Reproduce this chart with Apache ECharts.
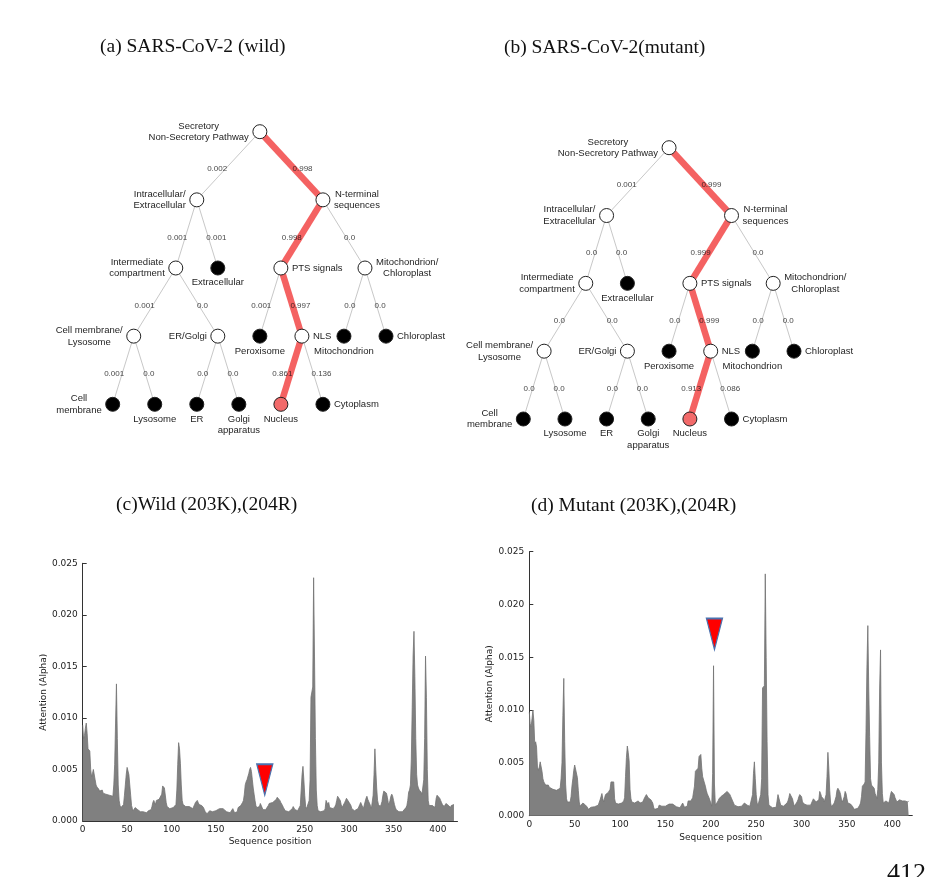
<!DOCTYPE html>
<html><head><meta charset="utf-8">
<script src="https://cdn.jsdelivr.net/npm/echarts@6/dist/echarts.min.js"></script>
<style>html,body{margin:0;padding:0;background:#fff}#c{width:952px;height:877px}</style>
</head><body><div id="c"></div>
<script>
// ---------- tree data ----------
const nodeLabels = [
  'Secretory\nNon-Secretory Pathway', 'Intracellular/\nExtracellular', 'N-terminal\nsequences',
  'Intermediate\ncompartment', 'Extracellular', 'PTS signals', 'Mitochondrion/\nChloroplast',
  'Cell membrane/\nLysosome', 'ER/Golgi', 'Peroxisome', 'NLS', 'Mitochondrion', 'Chloroplast',
  'Cell\nmembrane', 'Lysosome', 'ER', 'Golgi\napparatus', 'Nucleus', 'Cytoplasm'
];
const nodeParent = [-1, 0, 0, 1, 1, 2, 2, 3, 3, 5, 5, 6, 6, 7, 7, 8, 8, 10, 10];
const nodeLevel  = [0, 1, 1, 2, 2, 2, 2, 3, 3, 3, 3, 3, 3, 4, 4, 4, 4, 4, 4];
const nodeSlot   = [7, 4, 10, 3, 5, 8, 12, 1, 5, 7, 9, 11, 13, 0, 2, 4, 6, 8, 10];
const nodeIsLeaf = [0, 0, 0, 0, 1, 0, 0, 0, 0, 1, 0, 1, 1, 1, 1, 1, 1, 1, 1];
const predictedPath = [0, 2, 5, 10, 17];
// edge probability, indexed by child node
const wildEdgeProb   = ['', '0.002', '0.998', '0.001', '0.001', '0.998', '0.0', '0.001', '0.0', '0.001', '0.997', '0.0', '0.0', '0.001', '0.0', '0.0', '0.0', '0.861', '0.136'];
const mutantEdgeProb = ['', '0.001', '0.999', '0.0', '0.0', '0.999', '0.0', '0.0', '0.0', '0.0', '0.999', '0.0', '0.0', '0.0', '0.0', '0.0', '0.0', '0.913', '0.086'];

// ---------- attention data [sequence position, attention] ----------
const wildAttention = [
[0,0.0093],[1,0.0080],[2,0.0083],[3,0.0090],[4,0.0095],[5,0.0085],[6,0.0070],[7,0.0069],[8,0.0068],[9,0.0050],
[10,0.0043],[11,0.0046],[12,0.0050],[13,0.0051],[14,0.0040],[15,0.0035],[16,0.0033],[17,0.0032],[18,0.0031],[19,0.0029],
[20,0.0028],[21,0.0029],[22,0.0030],[23,0.0027],[24,0.0026],[26,0.0026],[28,0.0025],[30,0.0025],[32,0.0024],[34,0.0024],
[35,0.0035],[36,0.0055],[37,0.0095],[38,0.0133],[39,0.0080],[40,0.0035],[41,0.0020],[42,0.0015],[43,0.0013],[44,0.0013],
[45,0.0014],[46,0.0016],[47,0.0025],[48,0.0035],[49,0.0045],[50,0.0052],[51,0.0053],[52,0.0045],[53,0.0035],[54,0.0025],
[55,0.0015],[56,0.0012],[57,0.0010],[58,0.0010],[59,0.0013],[60,0.0014],[61,0.0013],[62,0.0011],[63,0.0010],[64,0.0011],
[65,0.0009],[66,0.0008],[68,0.0009],[70,0.0008],[72,0.0008],[74,0.0010],[76,0.0010],[77,0.0011],[78,0.0014],[79,0.0018],
[80,0.0020],[81,0.0018],[82,0.0016],[83,0.0020],[84,0.0021],[85,0.0019],[86,0.0021],[87,0.0020],[88,0.0022],[89,0.0026],
[90,0.0034],[91,0.0033],[92,0.0032],[93,0.0033],[94,0.0018],[95,0.0014],[96,0.0013],[98,0.0012],[100,0.0013],[102,0.0013],
[104,0.0014],[105,0.0016],[106,0.0030],[107,0.0055],[108,0.0076],[109,0.0070],[110,0.0056],[111,0.0035],[112,0.0020],[113,0.0016],
[114,0.0015],[116,0.0014],[118,0.0013],[120,0.0014],[122,0.0013],[124,0.0012],[125,0.0013],[126,0.0016],[127,0.0018],[128,0.0019],
[129,0.0020],[130,0.0018],[131,0.0016],[132,0.0015],[133,0.0017],[134,0.0015],[135,0.0016],[136,0.0013],[137,0.0011],[138,0.0009],
[139,0.0008],[140,0.0007],[142,0.0008],[143,0.0010],[144,0.0009],[146,0.0009],[148,0.0009],[150,0.0010],[152,0.0011],[154,0.0012],
[156,0.0012],[158,0.0012],[160,0.0011],[162,0.0009],[164,0.0008],[166,0.0008],[168,0.0009],[169,0.0012],[170,0.0011],[171,0.0008],
[172,0.0008],[174,0.0009],[175,0.0013],[176,0.0014],[178,0.0015],[180,0.0018],[181,0.0020],[182,0.0026],[183,0.0035],[184,0.0038],
[185,0.0040],[186,0.0039],[187,0.0046],[188,0.0050],[189,0.0052],[190,0.0048],[191,0.0040],[192,0.0032],[193,0.0026],[194,0.0020],
[195,0.0015],[196,0.0013],[197,0.0012],[198,0.0012],[199,0.0014],[200,0.0017],[201,0.0016],[202,0.0013],[203,0.0011],[204,0.0012],
[206,0.0011],[208,0.0012],[209,0.0015],[210,0.0017],[212,0.0017],[214,0.0018],[216,0.0019],[218,0.0021],[219,0.0023],[220,0.0024],
[221,0.0023],[222,0.0020],[223,0.0018],[224,0.0017],[225,0.0015],[226,0.0013],[228,0.0010],[230,0.0010],[232,0.0009],[234,0.0009],
[236,0.0012],[237,0.0014],[238,0.0013],[239,0.0011],[240,0.0010],[242,0.0010],[244,0.0010],[245,0.0015],[246,0.0030],[247,0.0045],
[248,0.0053],[249,0.0040],[250,0.0025],[251,0.0014],[252,0.0012],[253,0.0012],[254,0.0013],[255,0.0020],[256,0.0040],[257,0.0120],
[258,0.0120],[259,0.0130],[260,0.0236],[261,0.0160],[262,0.0080],[263,0.0030],[264,0.0015],[265,0.0010],[266,0.0010],[268,0.0009],
[270,0.0009],[272,0.0010],[273,0.0012],[274,0.0020],[275,0.0021],[276,0.0016],[277,0.0018],[278,0.0013],[279,0.0012],[280,0.0013],
[282,0.0012],[284,0.0014],[285,0.0016],[286,0.0020],[287,0.0024],[288,0.0025],[289,0.0023],[290,0.0020],[291,0.0016],[292,0.0013],
[293,0.0012],[294,0.0014],[295,0.0018],[296,0.0020],[297,0.0022],[298,0.0023],[299,0.0021],[300,0.0018],[301,0.0017],[302,0.0015],
[303,0.0012],[304,0.0011],[306,0.0010],[308,0.0011],[310,0.0012],[311,0.0014],[312,0.0016],[313,0.0018],[314,0.0019],[315,0.0017],
[316,0.0012],[317,0.0011],[318,0.0013],[319,0.0022],[320,0.0024],[321,0.0021],[322,0.0019],[323,0.0020],[324,0.0015],[325,0.0012],
[326,0.0013],[327,0.0025],[328,0.0045],[329,0.0070],[330,0.0050],[331,0.0032],[332,0.0020],[333,0.0016],[334,0.0015],[335,0.0014],
[336,0.0016],[337,0.0019],[338,0.0025],[339,0.0029],[340,0.0029],[341,0.0028],[342,0.0027],[343,0.0023],[344,0.0018],[345,0.0016],
[346,0.0020],[347,0.0024],[348,0.0026],[349,0.0024],[350,0.0020],[351,0.0016],[352,0.0013],[353,0.0011],[354,0.0010],[356,0.0009],
[358,0.0008],[360,0.0009],[362,0.0010],[364,0.0013],[365,0.0015],[366,0.0020],[367,0.0028],[368,0.0030],[369,0.0035],[370,0.0060],
[371,0.0110],[372,0.0160],[373,0.0184],[374,0.0140],[375,0.0080],[376,0.0045],[377,0.0035],[378,0.0032],[379,0.0030],[380,0.0030],
[381,0.0028],[382,0.0026],[383,0.0025],[384,0.0040],[385,0.0080],[386,0.0160],[387,0.0120],[388,0.0050],[389,0.0020],[390,0.0015],
[391,0.0014],[392,0.0014],[394,0.0015],[396,0.0013],[397,0.0015],[398,0.0022],[399,0.0025],[400,0.0026],[401,0.0024],[402,0.0022],
[403,0.0020],[404,0.0018],[405,0.0016],[406,0.0015],[407,0.0014],[408,0.0015],[409,0.0017],[410,0.0017],[411,0.0016],[412,0.0015],
[413,0.0014],[414,0.0013],[415,0.0015],[416,0.0016],[417,0.0015],[418,0.0016]
];
const mutantAttention = [
[0,0.0098],[1,0.0087],[2,0.0084],[3,0.0092],[4,0.0100],[5,0.0090],[6,0.0068],[7,0.0070],[8,0.0065],[9,0.0046],
[10,0.0043],[11,0.0046],[12,0.0051],[13,0.0052],[14,0.0042],[15,0.0035],[16,0.0032],[17,0.0031],[18,0.0029],[19,0.0028],
[20,0.0029],[21,0.0029],[22,0.0027],[23,0.0026],[24,0.0026],[26,0.0025],[28,0.0025],[30,0.0024],[32,0.0023],[34,0.0026],
[35,0.0035],[36,0.0050],[37,0.0095],[38,0.0130],[39,0.0070],[40,0.0030],[41,0.0016],[42,0.0013],[43,0.0012],[44,0.0012],
[45,0.0013],[46,0.0018],[47,0.0028],[48,0.0035],[49,0.0043],[50,0.0048],[51,0.0049],[52,0.0047],[53,0.0036],[54,0.0024],
[55,0.0013],[56,0.0009],[57,0.0008],[58,0.0010],[59,0.0012],[60,0.0013],[61,0.0012],[62,0.0010],[63,0.0009],[64,0.0008],
[65,0.0006],[66,0.0007],[68,0.0008],[70,0.0007],[72,0.00085],[74,0.0009],[76,0.0010],[77,0.0011],[78,0.0015],[79,0.0018],
[80,0.0021],[81,0.0016],[82,0.0013],[83,0.0017],[84,0.0020],[85,0.0020],[86,0.0019],[87,0.0022],[88,0.0023],[89,0.0025],
[90,0.0032],[91,0.0033],[92,0.0032],[93,0.0032],[94,0.0016],[95,0.0012],[96,0.0011],[98,0.0011],[100,0.0012],[102,0.0012],
[104,0.0014],[105,0.0017],[106,0.0037],[107,0.0055],[108,0.0066],[109,0.0060],[110,0.0052],[111,0.0025],[112,0.0016],[113,0.0013],
[114,0.0013],[116,0.0012],[118,0.0013],[120,0.0014],[122,0.0012],[124,0.0012],[125,0.0013],[126,0.0015],[127,0.0017],[128,0.0018],
[129,0.0020],[130,0.0019],[131,0.0017],[132,0.0016],[133,0.0017],[134,0.0015],[135,0.0015],[136,0.0012],[137,0.0008],[138,0.0006],
[140,0.00055],[142,0.0007],[143,0.0010],[144,0.0009],[146,0.0009],[148,0.00085],[150,0.0009],[152,0.0010],[154,0.0011],[156,0.0011],
[158,0.0011],[160,0.0010],[162,0.00085],[164,0.0008],[166,0.00075],[168,0.0009],[169,0.0012],[170,0.0010],[171,0.0008],[172,0.00075],
[174,0.0009],[175,0.0014],[176,0.0014],[178,0.0014],[180,0.0017],[181,0.0018],[182,0.0028],[183,0.0042],[184,0.0043],[185,0.0043],
[186,0.0045],[187,0.0056],[188,0.0057],[189,0.0058],[190,0.0045],[191,0.0037],[192,0.0038],[193,0.0037],[194,0.0028],[195,0.0024],
[196,0.0021],[197,0.0019],[198,0.0017],[199,0.0016],[200,0.0012],[201,0.0009],[202,0.0040],[203,0.0142],[204,0.0030],[205,0.0010],
[206,0.0010],[207,0.0011],[208,0.0014],[209,0.0016],[210,0.0017],[211,0.0018],[212,0.0019],[214,0.0020],[216,0.0021],[218,0.0023],
[219,0.0024],[220,0.0022],[221,0.0020],[222,0.0018],[223,0.0016],[224,0.0014],[225,0.0012],[226,0.0010],[228,0.0009],[230,0.00085],
[232,0.0008],[234,0.0009],[236,0.0010],[237,0.0012],[238,0.0012],[239,0.0011],[240,0.0010],[241,0.0009],[243,0.0009],[245,0.0009],
[246,0.0020],[247,0.0040],[248,0.0051],[249,0.0035],[250,0.0020],[251,0.0012],[252,0.0010],[253,0.0010],[254,0.0011],[255,0.0020],
[256,0.0035],[257,0.0121],[258,0.0121],[259,0.0123],[260,0.0229],[261,0.0150],[262,0.0070],[263,0.0020],[264,0.0010],[265,0.00085],
[266,0.00085],[268,0.00075],[270,0.0007],[272,0.0008],[273,0.0009],[274,0.0020],[275,0.0021],[276,0.0020],[277,0.0010],[278,0.00085],
[280,0.0009],[282,0.0010],[284,0.0012],[285,0.0014],[286,0.0017],[287,0.0021],[288,0.0022],[289,0.0020],[290,0.0016],[291,0.0012],
[292,0.0009],[293,0.00085],[294,0.0010],[295,0.0013],[296,0.0015],[297,0.0018],[298,0.0020],[299,0.0021],[300,0.0018],[301,0.0013],
[302,0.0012],[303,0.0011],[304,0.0011],[306,0.0010],[308,0.0009],[310,0.0010],[311,0.0012],[312,0.0014],[313,0.0016],[314,0.0017],
[315,0.0016],[316,0.0013],[317,0.0012],[318,0.0012],[319,0.0015],[320,0.0023],[321,0.0021],[322,0.0018],[323,0.0019],[324,0.0016],
[325,0.0013],[326,0.0014],[327,0.0020],[328,0.0037],[329,0.0060],[330,0.0045],[331,0.0024],[332,0.0012],[333,0.00085],[334,0.0009],
[336,0.0012],[337,0.0013],[338,0.0018],[339,0.0024],[340,0.0026],[341,0.0025],[342,0.0023],[343,0.0020],[344,0.0015],[345,0.0013],
[346,0.0012],[347,0.0018],[348,0.0023],[349,0.0021],[350,0.0016],[351,0.0012],[352,0.0011],[354,0.0011],[356,0.0009],[357,0.00085],
[358,0.0006],[359,0.00055],[360,0.0006],[362,0.0007],[364,0.0010],[365,0.0012],[366,0.0018],[367,0.0028],[368,0.0029],[369,0.0030],
[370,0.0032],[371,0.0080],[372,0.0140],[373,0.0180],[374,0.0120],[375,0.0075],[376,0.0035],[377,0.0029],[378,0.0028],[379,0.00275],
[380,0.0026],[381,0.0021],[382,0.0019],[383,0.0016],[384,0.0025],[385,0.0050],[386,0.0120],[387,0.0157],[388,0.0050],[389,0.0021],
[390,0.0012],[391,0.0012],[392,0.0013],[393,0.0014],[394,0.0013],[396,0.0012],[397,0.0015],[398,0.0020],[399,0.0023],[400,0.0023],
[401,0.0022],[402,0.0020],[403,0.0017],[404,0.0015],[405,0.0013],[406,0.0014],[408,0.0015],[409,0.0015],[410,0.0014],[411,0.0014],
[412,0.0015],[413,0.0013],[414,0.0014],[416,0.0014],[417,0.0013],[418,0.0014]
];
const xTicks = [0, 50, 100, 150, 200, 250, 300, 350, 400];
const yTicks = [0, 0.005, 0.010, 0.015, 0.020, 0.025];
const mutationMarkerPos = [205, 204];
const mutationMarkerY = [0.0040, 0.0172];
const panelTitles = ['(a) SARS-CoV-2 (wild)', '(b) SARS-CoV-2(mutant)', '(c)Wild (203K),(204R)', '(d) Mutant (203K),(204R)'];

// ---------- layout / style ----------
const labelSide = ['left','left','right','left','bottom','right','right','left','left','bottom','right','bottom','right','left','bottom','bottom','bottom','bottom','right'];
const TREE_FONT = 'Liberation Sans';
const CHART_FONT = 'DejaVu Sans';
const mctx = document.createElement('canvas').getContext('2d');
mctx.font = '9.5px "Liberation Sans"';
function textW(s) { return Math.max.apply(null, s.split('\n').map(l => mctx.measureText(l).width)); }
function nodeLabel(text, side) {
  const base = { show: true, formatter: text, fontFamily: TREE_FONT, fontSize: 9.5, lineHeight: 11.5, color: '#1e1e1e' };
  if (side === 'bottom') return Object.assign(base, { position: 'bottom', distance: 1.5 });
  const w = textW(text);
  return Object.assign(base, { position: side, distance: 3.5, align: 'center', verticalAlign: 'middle', offset: [side === 'left' ? -w / 2 : w / 2, 0] });
}

function treeSeries(ai, probs) {
  const onPath = new Set(predictedPath);
  const target = predictedPath[predictedPath.length - 1];
  const data = nodeLabels.map((lab, i) => ({
    name: 'n' + i,
    value: [nodeSlot[i], nodeLevel[i]],
    itemStyle: { color: i === target ? '#f26a6a' : (nodeIsLeaf[i] ? '#000' : '#fff'), borderColor: '#222', borderWidth: 1 },
    label: nodeLabel(lab, labelSide[i])
  }));
  const links = [], edgeLabels = [];
  for (let i = 1; i < nodeLabels.length; i++) {
    const p = nodeParent[i];
    const red = onPath.has(i) && onPath.has(p);
    links.push({ source: 'n' + p, target: 'n' + i, lineStyle: { color: red ? '#f46262' : '#c8c8c8', width: red ? 6.5 : 1, opacity: 1 } });
    const t = 0.55;
    const left = nodeSlot[i] < nodeSlot[p];
    edgeLabels.push({
      value: [nodeSlot[p] + t * (nodeSlot[i] - nodeSlot[p]), nodeLevel[p] + t * (nodeLevel[i] - nodeLevel[p])],
      label: { formatter: probs[i], align: left ? 'right' : 'left', offset: [left ? 2 : -2, 0] }
    });
  }
  return [
    { type: 'graph', coordinateSystem: 'cartesian2d', xAxisIndex: ai, yAxisIndex: ai, symbol: 'circle', symbolSize: 14,
      data: data, links: links, silent: true, z: 2, lineStyle: { opacity: 1, curveness: 0 }, emphasis: { disabled: true } },
    { type: 'scatter', xAxisIndex: ai, yAxisIndex: ai, symbolSize: 0, data: edgeLabels, silent: true, z: 5,
      label: { show: true, position: 'inside', verticalAlign: 'middle', fontFamily: TREE_FONT, fontSize: 8, color: '#111' } }
  ];
}

function chartAxes(ai, nameGapX) {
  const axisText = { fontFamily: CHART_FONT, fontSize: 9, color: '#222' };
  return {
    x: { type: 'value', gridIndex: ai, min: 0, max: 422,
      axisLine: { show: true, lineStyle: { color: '#333', width: 1 } },
      axisTick: { show: true, inside: true, length: 4, customValues: xTicks, lineStyle: { color: '#333' } },
      axisLabel: Object.assign({ customValues: xTicks, margin: 4 }, axisText),
      splitLine: { show: false },
      name: 'Sequence position', nameLocation: 'middle', nameGap: nameGapX, nameTextStyle: axisText },
    y: { type: 'value', gridIndex: ai, min: 0, max: 0.025,
      axisLine: { show: true, lineStyle: { color: '#333', width: 1 } },
      axisTick: { show: true, inside: true, length: 4, customValues: yTicks, lineStyle: { color: '#333' } },
      axisLabel: Object.assign({ customValues: yTicks, margin: 5, formatter: v => v.toFixed(3) }, axisText),
      splitLine: { show: false },
      name: 'Attention (Alpha)', nameLocation: 'middle', nameGap: 33, nameRotate: 90, nameTextStyle: axisText }
  };
}

function chartSeries(ai, pairs, k) {
  return [
    { type: 'line', xAxisIndex: ai, yAxisIndex: ai, data: pairs, showSymbol: false, silent: true,
      lineStyle: { color: '#727272', width: 0.8 }, areaStyle: { color: '#808080', opacity: 1 } },
    { type: 'scatter', xAxisIndex: ai, yAxisIndex: ai, data: [[mutationMarkerPos[k], mutationMarkerY[k]]], silent: true, z: 6,
      symbol: 'triangle', symbolRotate: 180, symbolSize: [16, 31],
      itemStyle: { color: '#ff0000', borderColor: '#4a72b0', borderWidth: 1.5, opacity: 1 } }
  ];
}

const cAx = chartAxes(2, 16), dAx = chartAxes(3, 17);
const hiddenAxis = (gi, min, max, inverse) => ({ type: 'value', gridIndex: gi, min: min, max: max, inverse: !!inverse, show: false });

const titleStyle = { fontFamily: 'Liberation Serif', fontSize: 19.5, fontWeight: 'normal', color: '#111' };
const option = {
  animation: false,
  backgroundColor: '#ffffff',
  title: [
    { text: panelTitles[0], left: 100, top: 37, padding: 0, textStyle: titleStyle },
    { text: panelTitles[1], left: 504, top: 38, padding: 0, textStyle: titleStyle },
    { text: panelTitles[2], left: 116, top: 495, padding: 0, textStyle: titleStyle },
    { text: panelTitles[3], left: 531, top: 496, padding: 0, textStyle: titleStyle }
  ],
  grid: [
    { left: 112.7, top: 131.7, width: 273.3, height: 272.6, outerBoundsMode: 'none' },
    { left: 523.3, top: 147.7, width: 270.7, height: 271.3, outerBoundsMode: 'none' },
    { left: 82.7, top: 563.3, width: 374.8, height: 257.7, outerBoundsMode: 'none' },
    { left: 529.3, top: 551.7, width: 383, height: 264, outerBoundsMode: 'none' }
  ],
  xAxis: [hiddenAxis(0, 0, 13), hiddenAxis(1, 0, 13), cAx.x, dAx.x],
  yAxis: [hiddenAxis(0, 0, 4, true), hiddenAxis(1, 0, 4, true), cAx.y, dAx.y],
  series: [].concat(
    treeSeries(0, wildEdgeProb),
    treeSeries(1, mutantEdgeProb),
    chartSeries(2, wildAttention, 0),
    chartSeries(3, mutantAttention, 1)
  ),
  graphic: [
    { type: 'text', left: 887, top: 861, silent: true, style: { text: '412', font: '26px "Liberation Serif"', fill: '#111' } }
  ]
};
const chart = echarts.init(document.getElementById('c'), null, { renderer: 'canvas' });
chart.setOption(option);
</script>
</body></html>
